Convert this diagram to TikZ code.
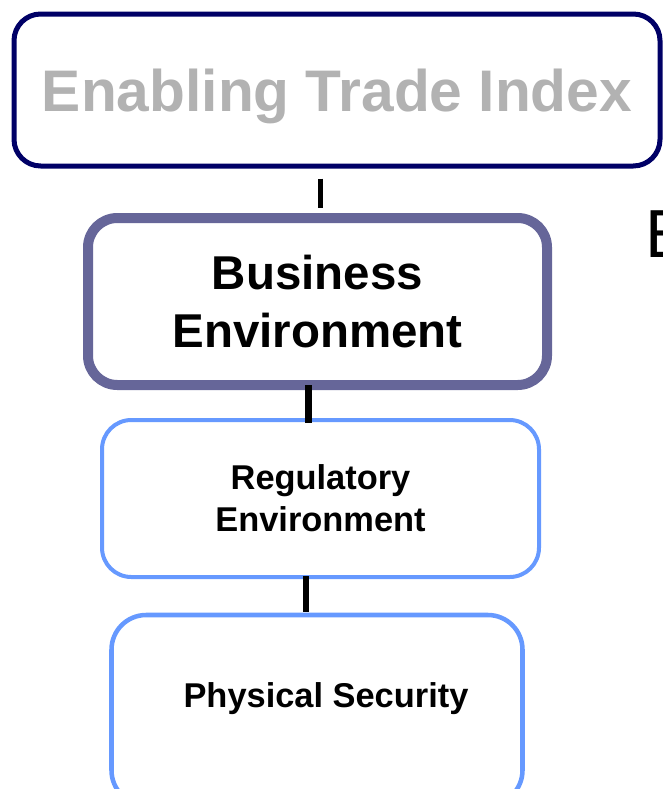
\documentclass[tikz,border=0pt]{standalone}
\usepackage{fontspec}
\setmainfont{Liberation Sans}

\definecolor{navyline}{HTML}{000066}
\definecolor{bizline}{HTML}{666699}
\definecolor{subline}{HTML}{6699FF}
\definecolor{indexgray}{HTML}{B2B2B2}

\begin{document}
\begin{tikzpicture}[x=0.75pt,y=-0.75pt,
		tierbox/.style={draw,fill=white,align=center,inner sep=0pt,rounded corners=22pt},
		subfont/.style={font=\bfseries\fontsize{25.8}{31.5}\selectfont},
		link/.style={draw=black,line cap=butt}]
		\clip (0,0) rectangle (663,789);

		\node[tierbox,draw=navyline,line width=3.75pt,rounded corners=20pt,
			minimum width=484.5pt,minimum height=114pt,text=indexgray,text depth=0pt,
			font=\bfseries\fontsize{44}{52}\selectfont] (index) at (337,90) {Enabling Trade Index};
		\node[tierbox,draw=bizline,line width=7.5pt,minimum width=344.25pt,minimum height=125.25pt,
			font=\bfseries\fontsize{35.6}{43.5}\selectfont] (business) at (317.5,301.5) {Business\\Environment};
		\node[tierbox,draw=subline,line width=3pt,minimum width=327.75pt,minimum height=117.75pt,
			subfont] (regulatory) at (320.5,498.5) {Regulatory\\Environment};
		\node[tierbox,draw=subline,line width=3.4pt,rounded corners=26pt,
			minimum width=308.25pt,minimum height=142.5pt] (security) at (317,710) {};
		\node[subfont,inner sep=0pt] (securitytext) at (326,699) {Physical Security};

		\node[anchor=base west,inner sep=0pt,font=\fontsize{51}{60}\selectfont] (edgeletter) at (645,257) {E};

		\draw[link,line width=3.75pt,shorten <=7.5pt,shorten >=3.75pt]
			([xshift=1.875pt]business.north |- index.south) -- ([xshift=1.875pt]business.north);
		\draw[link,line width=5.25pt,shorten <=-3.75pt,shorten >=-3.75pt]
			([xshift=-7.125pt]business.south) -- ([xshift=-7.125pt]business.south |- regulatory.north);
		\draw[link,line width=4.5pt,shorten <=-2.25pt,shorten >=0.75pt]
			([xshift=-10.875pt]regulatory.south) -- ([xshift=-10.875pt]regulatory.south |- security.north);
	\end{tikzpicture}
\end{document}
